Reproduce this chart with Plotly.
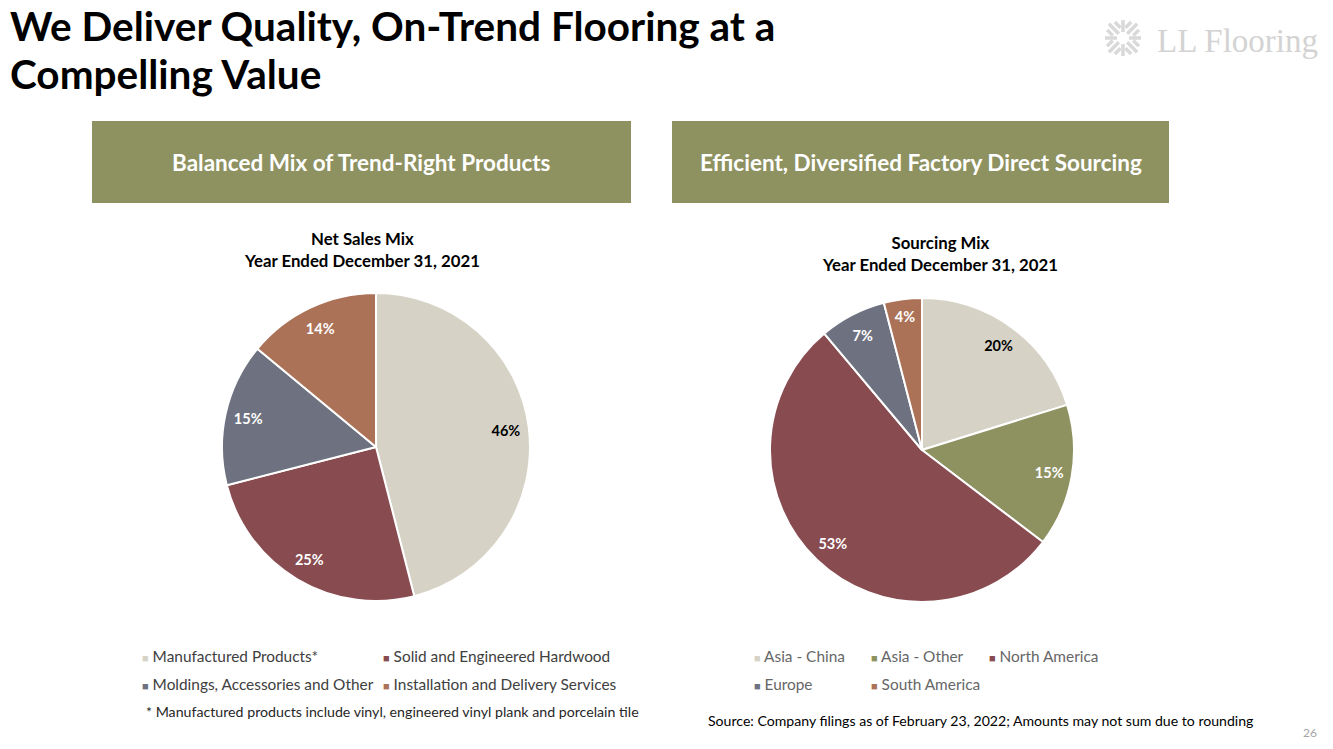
import math
import plotly.graph_objects as go

W, H = 1333, 749

# ---- data ----
sales_labels = ["Manufactured Products*", "Solid and Engineered Hardwood",
                "Moldings, Accessories and Other", "Installation and Delivery Services"]
sales_values = [46, 25, 15, 14]
sales_colors = ["#D6D3C6", "#884B50", "#6E7280", "#AB7258"]
sales_text_colors = ["#000000", "#FFFFFF", "#FFFFFF", "#FFFFFF"]

src_labels = ["Asia - China", "Asia - Other", "North America", "Europe", "South America"]
src_values = [20, 15, 53, 7, 4]
src_colors = ["#D6D3C6", "#8E9160", "#884B50", "#6E7280", "#AB7258"]
src_text_colors = ["#000000", "#FFFFFF", "#FFFFFF", "#FFFFFF", "#FFFFFF"]

title_lines = ["We Deliver Quality, On-Trend Flooring at a", "Compelling Value"]

OLIVE = "#8E9160"
FONT = "Lato"


def px(x):
    return x / W


def py(y):
    return 1 - y / H


fig = go.Figure()


def add_pie(labels, values, colors, text_colors, dom):
    # coloured slices
    fig.add_trace(go.Pie(
        labels=labels, values=values, sort=False, direction="clockwise", rotation=0,
        textinfo="none",
        marker=dict(colors=colors, line=dict(color="white", width=2)),
        domain=dom, showlegend=False, hoverinfo="label+percent",
    ))
    # transparent ring carrying the percentage labels near the rim
    fig.add_trace(go.Pie(
        labels=labels, values=values, sort=False, direction="clockwise", rotation=0,
        hole=0.7, text=[f"{v}%" for v in values], textinfo="text",
        texttemplate="%{text}", textposition="inside", insidetextorientation="horizontal",
        marker=dict(colors=["rgba(0,0,0,0)"] * len(values), line=dict(width=0)),
        textfont=dict(family=FONT, size=14.5, color=text_colors, weight="bold"),
        domain=dom, showlegend=False, hoverinfo="skip",
    ))


add_pie(sales_labels, sales_values, sales_colors, sales_text_colors,
        dict(x=[px(222), px(530)], y=[py(601), py(293)]))
add_pie(src_labels, src_values, src_colors, src_text_colors,
        dict(x=[px(770), px(1074)], y=[py(602), py(298)]))

shapes = []
annotations = []

# header boxes
for (x0, x1, txt) in [(92, 631, "Balanced Mix of Trend-Right Products"),
                      (672, 1169, "Efficient, Diversified Factory Direct Sourcing")]:
    shapes.append(dict(type="rect", xref="paper", yref="paper",
                       x0=px(x0), x1=px(x1), y0=py(203), y1=py(121),
                       fillcolor=OLIVE, line=dict(width=0), layer="below"))
    annotations.append(dict(xref="paper", yref="paper", x=px((x0 + x1) / 2), y=py(162),
                            text=f"<b>{txt}</b>", showarrow=False,
                            font=dict(family=FONT, size=22.5, color="white"),
                            xanchor="center", yanchor="middle"))

# main title (two lines, tight spacing)
for line, yc in zip(title_lines, (26, 73)):
    annotations.append(dict(xref="paper", yref="paper", x=px(8), y=py(yc),
                            text=f"<b>{line}</b>",
                            showarrow=False, align="left", xanchor="left", yanchor="middle",
                            font=dict(family=FONT, size=40.5, color="#000000")))

# chart titles
annotations.append(dict(xref="paper", yref="paper", x=px(362), y=py(249),
                        text="<b>Net Sales Mix<br>Year Ended December 31, 2021</b>",
                        showarrow=False, xanchor="center", yanchor="middle",
                        font=dict(family=FONT, size=16.8, color="#000000")))
annotations.append(dict(xref="paper", yref="paper", x=px(940), y=py(253),
                        text="<b>Sourcing Mix<br>Year Ended December 31, 2021</b>",
                        showarrow=False, xanchor="center", yanchor="middle",
                        font=dict(family=FONT, size=16.8, color="#000000")))


def legend_item(x, y, label, color, textcolor):
    annotations.append(dict(
        xref="paper", yref="paper", x=px(x), y=py(y), showarrow=False,
        xanchor="left", yanchor="middle",
        text=f"<span style='color:{color};font-size:11px'>■</span> {label}",
        font=dict(family=FONT, size=15.4, color=textcolor)))


# left legend
left_pos = [(140, 656), (381, 656), (140, 684), (381, 684)]
for (x, y), lab, col in zip(left_pos, sales_labels, sales_colors):
    legend_item(x, y, lab, col, "#404040")

annotations.append(dict(xref="paper", yref="paper", x=px(144), y=py(711), showarrow=False,
                        xanchor="left", yanchor="middle",
                        text="* Manufactured products include vinyl, engineered vinyl plank and porcelain tile",
                        font=dict(family=FONT, size=14.2, color="#262626")))

# right legend
right_pos = [(752, 656), (869, 656), (987, 656), (752, 684), (869, 684)]
for (x, y), lab, col in zip(right_pos, src_labels, src_colors):
    legend_item(x, y, lab, col, "#666666")

# source
annotations.append(dict(xref="paper", yref="paper", x=px(706), y=py(720), showarrow=False,
                        xanchor="left", yanchor="middle",
                        text="Source: Company filings as of February 23, 2022; Amounts may not sum due to rounding",
                        font=dict(family=FONT, size=14.1, color="#000000")))

# page number
annotations.append(dict(xref="paper", yref="paper", x=px(1319), y=py(732), showarrow=False,
                        xanchor="right", yanchor="middle", text="26",
                        font=dict(family=FONT, size=12, color="#A6A6A6")))

# logo text
annotations.append(dict(xref="paper", yref="paper", x=px(1155), y=py(41), showarrow=False,
                        xanchor="left", yanchor="middle", text="LL Flooring",
                        font=dict(family="Liberation Serif", size=33, color="#D3D3D3")))

# logo icon (decorative)
cx, cy = 1123, 38
for k in range(8):
    a = k * math.pi / 4
    dx, dy = math.cos(a), math.sin(a)
    nx, ny = -dy, dx
    offs = (-5.5, 0, 5.5) if k % 2 == 1 else (0,)
    for off in offs:
        r0 = 6 if off == 0 else 9
        r1 = 20 if k % 2 == 1 else 18
        if off != 0:
            r1 = 17
        x0 = cx + dx * r0 + nx * off
        y0 = cy + dy * r0 + ny * off
        x1 = cx + dx * r1 + nx * off
        y1 = cy + dy * r1 + ny * off
        shapes.append(dict(type="line", xref="paper", yref="paper",
                           x0=px(x0), y0=py(y0), x1=px(x1), y1=py(y1),
                           line=dict(color="#D9D9D9", width=3.5)))

fig.update_layout(
    width=W, height=H, margin=dict(l=0, r=0, t=0, b=0),
    paper_bgcolor="white", plot_bgcolor="white",
    shapes=shapes, annotations=annotations,
    font=dict(family=FONT),
)

fig.write_html("out.html")
